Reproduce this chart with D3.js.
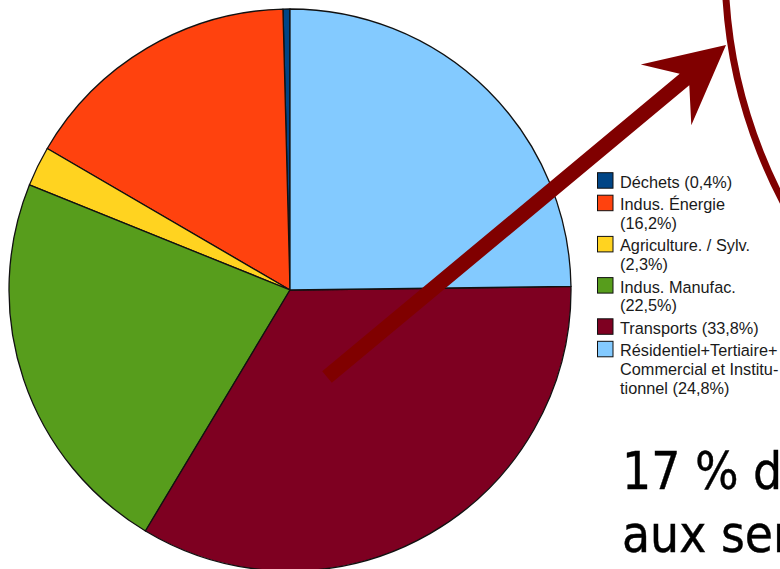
<!DOCTYPE html>
<html>
<head>
<meta charset="utf-8">
<script src="https://cdn.jsdelivr.net/npm/d3@7/dist/d3.min.js"></script>
<style>
  html, body { margin: 0; padding: 0; background: #fff; }
  svg { display: block; }
</style>
</head>
<body>
<svg id="chart" width="780" height="569"></svg>
<script>
// ---- Data ----
const categories = ["Déchets", "Indus. Énergie", "Agriculture. / Sylv.", "Indus. Manufac.", "Transports", "Résidentiel+Tertiaire+ Commercial et Institu- tionnel"];
const values = [0.4, 16.2, 2.3, 22.5, 33.8, 24.8];
const legendLines = [
  ["Déchets (0,4%)"],
  ["Indus. Énergie", "(16,2%)"],
  ["Agriculture. / Sylv.", "(2,3%)"],
  ["Indus. Manufac.", "(22,5%)"],
  ["Transports (33,8%)"],
  ["Résidentiel+Tertiaire+", "Commercial et Institu-", "tionnel (24,8%)"]
];
const colors = ["#004586", "#ff420e", "#ffd320", "#579d1c", "#7e0021", "#83caff"];
const bigTextLines = ["17 % d", "aux ser"];

// ---- Layout ----
const svg = d3.select("#chart");
const cx = 290, cy = 290, radius = 281;

const color = d3.scaleOrdinal().domain(categories).range(colors);

const pie = d3.pie()
  .sort(null)
  .value(d => d.value)
  .startAngle(0)
  .endAngle(-2 * Math.PI);

const data = categories.map((c, i) => ({ cat: c, value: values[i] }));
const arc = d3.arc().innerRadius(0).outerRadius(radius);

const g = svg.append("g").attr("transform", `translate(${cx},${cy})`);
g.selectAll("path.slice")
  .data(pie(data))
  .join("path")
  .attr("class", "slice")
  .attr("d", arc)
  .attr("fill", d => color(d.data.cat))
  .attr("stroke", "#111")
  .attr("stroke-width", 1.3)
  .attr("stroke-linejoin", "round");

// ---- Legend ----
const legend = svg.append("g").attr("class", "legend");
const lx = 597.5, tx = 620;
const lineH = 18.7, itemGap = 22.5;
let baseline = 187.7;
legendLines.forEach((lines, i) => {
  const item = legend.append("g");
  item.append("rect")
    .attr("x", lx)
    .attr("y", baseline - 15)
    .attr("width", 15.5)
    .attr("height", 15.5)
    .attr("fill", color(categories[i]))
    .attr("stroke", "#111")
    .attr("stroke-width", 1);
  lines.forEach((t, j) => {
    item.append("text")
      .attr("x", tx)
      .attr("y", baseline + j * lineH)
      .attr("font-family", "'Liberation Sans', Arial, sans-serif")
      .attr("font-size", 16.3)
      .attr("fill", "#1a1a1a")
      .text(t);
  });
  baseline += (lines.length - 1) * lineH + itemGap;
});

// ---- Annotation: circle outline ----
svg.append("circle")
  .attr("cx", 1229)
  .attr("cy", -33)
  .attr("r", 504)
  .attr("fill", "none")
  .attr("stroke", "#800000")
  .attr("stroke-width", 7);

// ---- Annotation: arrow ----
const start = [327, 377], tip = [726, 45];
const dx = tip[0] - start[0], dy = tip[1] - start[1];
const len = Math.hypot(dx, dy);
const u = [dx / len, dy / len], n = [-u[1], u[0]];
const hw = 7.5, notchBack = 54, cornerBack = 78, cornerHalf = 39.5;
const P = (along, perp) => [start[0] + u[0] * along + n[0] * perp, start[1] + u[1] * along + n[1] * perp];
const arrowPts = [
  P(0, -hw), P(len - notchBack, -hw), P(len - cornerBack, -cornerHalf),
  P(len, 0),
  P(len - cornerBack, cornerHalf), P(len - notchBack, hw), P(0, hw)
];
svg.append("path")
  .attr("d", d3.line()(arrowPts) + "Z")
  .attr("fill", "#800000");

// ---- Big text ----
const bt = svg.append("g");
bigTextLines.forEach((t, i) => {
  bt.append("text")
    .attr("x", 622)
    .attr("y", 489 + i * 63)
    .attr("font-family", "'DejaVu Sans Condensed', 'DejaVu Sans', sans-serif")
    .attr("font-stretch", "condensed")
    .attr("font-size", 51)
    .attr("fill", "#000")
    .attr("stroke", "#000")
    .attr("stroke-width", 0.4)
    .text(t);
});
</script>
</body>
</html>
